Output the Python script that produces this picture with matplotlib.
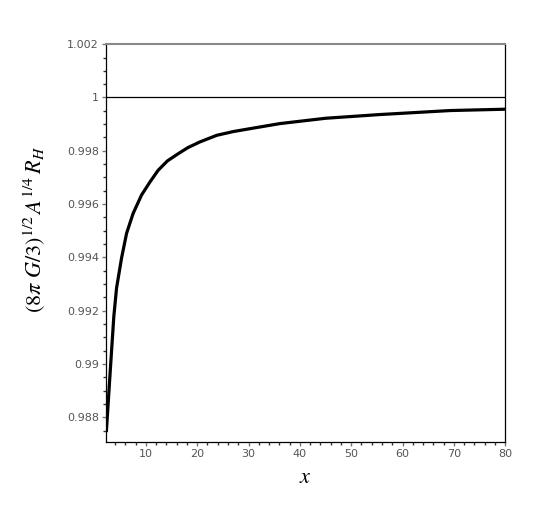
import numpy as np
import matplotlib.pyplot as plt
from matplotlib.ticker import MultipleLocator

plt.rcParams['mathtext.fontset'] = 'stix'

# values
x_vals = [2.3, 2.98, 3.76, 4.29, 5.26, 6.24, 7.52, 9.16, 10.8, 12.4, 14.2,
          16.3, 18.2, 20.5, 23.8, 27.0, 30.3, 36.1, 45.0, 55.6, 69.3, 80.0]
y_vals = [0.98744, 0.98950, 0.99179, 0.99285, 0.99397, 0.99490, 0.99565,
          0.99634, 0.99683, 0.99727, 0.99762, 0.99789, 0.99812, 0.99833,
          0.99858, 0.99872, 0.99883, 0.99902, 0.99922, 0.99936, 0.99951,
          0.99956]
y_ref = 1.0

x_ticks = [10, 20, 30, 40, 50, 60, 70, 80]
y_ticks = [0.988, 0.99, 0.992, 0.994, 0.996, 0.998, 1.0, 1.002]
y_ticklabels = ['0.988', '0.99', '0.992', '0.994', '0.996', '0.998', '1', '1.002']

fig = plt.figure(figsize=(5.57, 5.2), dpi=100)
ax = fig.add_axes([0.19, 0.15, 0.717, 0.765])

ax.plot(x_vals, y_vals, color='k', linewidth=2.3, solid_capstyle='butt',
        solid_joinstyle='round')
ax.axhline(y_ref, color='k', linewidth=0.9)

ax.set_xlim(2.2, 80)
ax.set_ylim(0.98707, 1.002)

ax.set_xticks(x_ticks)
ax.set_yticks(y_ticks)
ax.set_yticklabels(y_ticklabels)
ax.xaxis.set_minor_locator(MultipleLocator(2))
ax.yaxis.set_minor_locator(MultipleLocator(0.0005))
ax.tick_params(which='major', length=3, width=1, color='#777777',
               labelsize=8, labelcolor='#555555', pad=2)
ax.tick_params(which='minor', length=2, width=1, color='#333333')

ax.spines['top'].set_color('#888888')
ax.spines['top'].set_linewidth(1.5)
for s in ['left', 'right', 'bottom']:
    ax.spines[s].set_color('k')
    ax.spines[s].set_linewidth(0.9)

ax.set_xlabel(r'$x$', fontsize=16, labelpad=6)
ax.set_ylabel(r'$(8\pi\ G/3)^{1/2}\,A^{1/4}\,R_H$', fontsize=16)
ax.yaxis.set_label_coords(-0.145, 0.535)

plt.savefig('out.png', dpi=100)
